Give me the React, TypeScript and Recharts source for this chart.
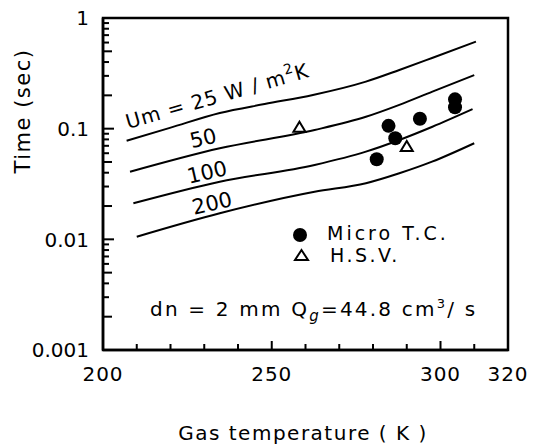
import { ComposedChart, Line, Scatter, XAxis, YAxis, ReferenceArea } from 'recharts'

// curves of constant Um (W/m²K): gas temperature (K) vs time (s)
const um25 = [
  { x: 207.0, y: 0.0778 },
  { x: 219.8, y: 0.1016 },
  { x: 234.6, y: 0.1386 },
  { x: 247.9, y: 0.167 },
  { x: 262.2, y: 0.2015 },
  { x: 277.9, y: 0.266 },
  { x: 287.8, y: 0.339 },
  { x: 297.5, y: 0.435 },
  { x: 310.5, y: 0.611 },
]
const um50 = [
  { x: 208.0, y: 0.0408 },
  { x: 234.6, y: 0.0665 },
  { x: 262.7, y: 0.0973 },
  { x: 277.9, y: 0.128 },
  { x: 287.8, y: 0.164 },
  { x: 297.6, y: 0.216 },
  { x: 310.0, y: 0.305 },
]
const um100 = [
  { x: 209.0, y: 0.0212 },
  { x: 234.6, y: 0.0332 },
  { x: 262.7, y: 0.047 },
  { x: 277.9, y: 0.062 },
  { x: 287.8, y: 0.079 },
  { x: 297.6, y: 0.104 },
  { x: 309.5, y: 0.15 },
]
const um200 = [
  { x: 210.0, y: 0.01056 },
  { x: 234.6, y: 0.0172 },
  { x: 262.7, y: 0.0269 },
  { x: 277.9, y: 0.0321 },
  { x: 287.8, y: 0.0395 },
  { x: 297.5, y: 0.0503 },
  { x: 310.0, y: 0.0738 },
]

// measured points
const microTC = [
  { x: 281.1, y: 0.0529 },
  { x: 284.6, y: 0.106 },
  { x: 286.6, y: 0.0818 },
  { x: 293.9, y: 0.123 },
  { x: 304.3, y: 0.184 },
  { x: 304.3, y: 0.156 },
]
const hsv = [
  { x: 258.2, y: 0.104 },
  { x: 290.0, y: 0.0697 },
]

const xTicks = [200, 210, 220, 230, 240, 250, 260, 270, 280, 290, 300, 310, 320]
const xLabels = [200, 250, 300, 320]
const decades = [0.001, 0.01, 0.1, 1]
const yTicks = [0.001, 0.01, 0.1]
  .flatMap((d) => [1, 2, 3, 4, 5, 6, 7, 8, 9].map((m) => +(d * m).toPrecision(3)))
  .concat([1])

const FONT = '"DejaVu Sans", sans-serif'

const isDecade = (v: number) => decades.some((d) => Math.abs(d - v) < d * 1e-6)

// inward tick mark + label (only on the labelled values)
function XTick(props: any) {
  const x = Number(props.x)
  const y = Number(props.y)
  const v = props.payload.value
  const major = xLabels.includes(v)
  return (
    <g>
      <rect x={x - 1} y={y - (major ? 9 : 6)} width={2} height={major ? 9 : 6} fill="#000" />
      {major && (
        <text x={x} y={y + 31} textAnchor="middle" fontSize={20} fontFamily={FONT} letterSpacing={1} fill="#000">
          {v}
        </text>
      )}
    </g>
  )
}

function YTick(props: any) {
  const x = Number(props.x)
  const y = Number(props.y)
  const v = props.payload.value
  const major = isDecade(v)
  const lead = Math.round(v / Math.pow(10, Math.floor(Math.log10(v) + 1e-9)))
  const len = major ? 11 : lead === 2 || lead === 5 ? 9 : 6
  return (
    <g>
      <rect x={x} y={y - 1} width={len} height={2} fill="#000" />
      {major && (
        <text x={x - 14} y={y} dy="0.36em" textAnchor="end" fontSize={20} fontFamily={FONT} fill="#000">
          {String(v)}
        </text>
      )}
    </g>
  )
}

const dot = (props: any) => <circle cx={props.cx} cy={props.cy} r={7} fill="#000" />
const tri = (props: any) => (
  <polygon
    points={`${props.cx},${props.cy - 5} ${props.cx - 6},${props.cy + 5} ${props.cx + 6},${props.cy + 5}`}
    fill="#fff"
    stroke="#000"
    strokeWidth={2}
  />
)

const curves = [um25, um50, um100, um200]
const frame = { stroke: '#000', strokeWidth: 2.5 }

export default function App() {
  return (
    <div style={{ position: 'absolute', left: 0, top: 0, width: 536, height: 444, background: '#fff' }}>
      <ComposedChart width={536} height={444} margin={{ top: 18, right: 28, bottom: 0, left: 0 }}>
        <XAxis
          dataKey="x"
          type="number"
          domain={[200, 320]}
          ticks={xTicks}
          interval={0}
          tick={(p: any) => <XTick {...p} />}
          tickLine={false}
          tickSize={0}
          tickMargin={0}
          axisLine={frame}
          height={94}
        />
        <YAxis
          dataKey="y"
          type="number"
          scale="log"
          domain={[0.001, 1]}
          ticks={yTicks}
          interval={0}
          tick={(p: any) => <YTick {...p} />}
          tickLine={false}
          tickSize={0}
          tickMargin={0}
          axisLine={frame}
          width={103}
        />
        <ReferenceArea x1={200} x2={320} y1={0.001} y2={1} fill="none" stroke="#000" strokeWidth={2.5} />
        {curves.map((c, i) => (
          <Line
            key={i}
            data={c}
            dataKey="y"
            type="monotone"
            stroke="#000"
            strokeWidth={2}
            dot={false}
            activeDot={false}
            isAnimationActive={false}
          />
        ))}
        <Scatter data={microTC} dataKey="y" shape={dot} isAnimationActive={false} />
        <Scatter data={hsv} dataKey="y" shape={tri} isAnimationActive={false} />
      </ComposedChart>
      <svg
        width={536}
        height={444}
        style={{ position: 'absolute', left: 0, top: 0, pointerEvents: 'none' }}
        fontFamily={FONT}
        fill="#000"
      >
        <text transform="translate(128,129) rotate(-16)" fontSize={20} letterSpacing={0.9}>
          Um = 25 W / m<tspan dy={-9} fontSize={14}>2</tspan>
          <tspan dy={9}>K</tspan>
        </text>
        <text transform="translate(203,138) rotate(-13)" fontSize={21} textAnchor="middle" dy="0.35em">50</text>
        <text transform="translate(207,172) rotate(-13)" fontSize={21} textAnchor="middle" dy="0.35em">100</text>
        <text transform="translate(212,203) rotate(-13)" fontSize={21} textAnchor="middle" dy="0.35em">200</text>

        <circle cx={300} cy={235} r={7} fill="#000" />
        <text x={327} y={240} fontSize={19} letterSpacing={3}>Micro T.C.</text>
        <polygon points="301.5,250 295,260 308,260" fill="#fff" stroke="#000" strokeWidth={2} />
        <text x={330} y={262} fontSize={19} letterSpacing={2.5}>H.S.V.</text>

        <text x={150} y={316} fontSize={20} letterSpacing={2.2}>
          dn = 2 mm  Q<tspan dy={5} fontSize={15} fontStyle="italic">g</tspan>
          <tspan dy={-5}>=44.8 cm</tspan>
          <tspan dy={-8} fontSize={13}>3</tspan>
          <tspan dy={8}>/ s</tspan>
        </text>

        <text x={303} y={440} fontSize={20} letterSpacing={1.5} textAnchor="middle">Gas temperature ( K )</text>
        <text transform="translate(30,111) rotate(-90)" fontSize={21} letterSpacing={1.5} textAnchor="middle">Time (sec)</text>
      </svg>
    </div>
  )
}
